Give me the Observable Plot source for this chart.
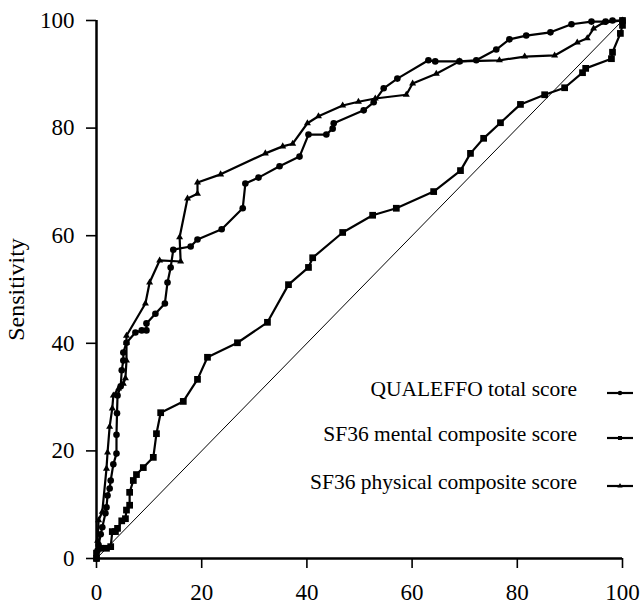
<!DOCTYPE html>
<html>
<head>
<meta charset="utf-8">
<script src="https://cdn.jsdelivr.net/npm/d3@7"></script>
<script src="https://cdn.jsdelivr.net/npm/@observablehq/plot@0.6"></script>
<style>
  html, body { margin: 0; padding: 0; background: #fff; }
  #wrap { position: relative; width: 642px; height: 604px; font-family: "Liberation Serif", "Times New Roman", serif; }
  #legend { position: absolute; left: 0; top: 0; width: 642px; height: 604px; pointer-events: none; }
  .row { position: absolute; right: 65px; font-size: 21.5px; white-space: nowrap; line-height: 1; }
  svg text { font-family: "Liberation Serif", "Times New Roman", serif; }
</style>
</head>
<body>
<div id="wrap"></div>
<script>
// Series names
const seriesNames = ["QUALEFFO total score", "SF36 mental composite score", "SF36 physical composite score"];

// QUALEFFO total score (1 - specificity, sensitivity)
const qualeffoX = [0,0.2,0.4,0.8,1.1,1.7,1.9,2.1,2.5,2.7,3.2,3.8,3.8,3.9,4,4.6,4.8,5.1,5.1,5.7,7.4,8.6,9.5,9.5,11.2,13,13.5,14.1,14.6,17.9,19.2,23.8,27.8,28.3,30.8,34.8,38.6,40.3,43.7,44.9,45.1,50.8,52.7,54.6,57.2,63.1,64.4,69,72.2,76,78.5,81.7,86.3,90.3,94.1,96.8,98.1,100];
const qualeffoY = [0,1.5,2.5,4.5,5.8,8.4,9.5,11.7,13,14.5,17.5,19.5,23,27,30.3,32,35,36.8,38.3,40.1,42,42.4,42.4,43.7,45.5,47.4,51.3,54.1,57.4,58,59.3,61.2,65.1,69.7,70.8,72.9,74.7,78.8,78.8,79.9,80.9,83.3,84.8,87.4,89.2,92.6,92.4,92.4,92.6,94.6,96.5,97.2,97.8,99.3,99.8,99.8,100,100];

// SF36 mental composite score
const mentalX = [0,0,0.8,1.9,2.7,3,3.6,4,4.8,5.5,5.7,6.3,6.3,7,7.6,8.9,10.8,11.4,12.2,16.5,19.2,21.1,26.8,32.5,36.5,40.3,41.1,46.8,52.5,57,64.1,69.2,71.1,73.6,76.8,80.6,85.2,89,92.4,93,97.9,98.1,99.6,100,100];
const mentalY = [0,1,1.9,1.9,2.2,5,5,5.6,7,7.4,9,9.9,12.3,14.5,15.6,16.9,18.8,23.2,27.1,29.2,33.3,37.4,40.1,43.9,50.9,54.1,55.9,60.6,63.8,65.1,68.2,72.1,75.3,78.1,81,84.4,86.2,87.5,90.3,91.1,92.9,94.1,97.6,99.1,100];

// SF36 physical composite score
const physicalX = [0,0.2,0.4,1.1,1.9,2.1,2.5,3,3.2,4.2,5.1,5.5,5.7,5.7,5.7,9.3,10.1,12,16,15.8,17.3,19.2,19.2,23.6,32.1,35.4,37.3,40.1,42.2,46.8,49.8,53,58.9,60.1,64.6,69,76.6,81.4,87.1,91.4,93.3,94.5,96.4,100];
const physicalY = [0,3.3,7.1,8.7,16.7,19.7,24.5,27.9,30.3,31.6,32.5,33.5,36.8,40.1,41.4,47.4,51.3,55.4,55.2,59.7,66.9,67.8,69.9,71.4,75.3,76.6,77.1,80.9,82.2,84.2,84.9,85.5,86.2,88.3,90.1,92.4,92.6,93.3,93.5,95.9,96.7,98.5,99.6,100];

// Chance diagonal
const diagX = [0, 100];
const diagY = [0, 100];

// Tick labels
const xTicks = [0, 20, 40, 60, 80, 100];
const yTicks = [0, 20, 40, 60, 80, 100];

const toRows = (xs, ys) => xs.map((x, i) => ({x, y: ys[i]}));
const qualeffo = toRows(qualeffoX, qualeffoY);
const mental = toRows(mentalX, mentalY);
const physical = toRows(physicalX, physicalY);
const diag = toRows(diagX, diagY);

const chart = Plot.plot({
  width: 642,
  height: 604,
  marginTop: 20,
  marginRight: 20,
  marginBottom: 46,
  marginLeft: 96,
  style: {fontFamily: "'Liberation Serif', 'Times New Roman', serif", fontSize: "23px", background: "#fff", color: "#000", overflow: "visible"},
  x: {domain: [0, 100]},
  y: {domain: [0, 100]},
  marks: [
    Plot.line(diag, {x: "x", y: "y", stroke: "#000", strokeWidth: 1}),
    Plot.line(mental, {x: "x", y: "y", stroke: "#000", strokeWidth: 2.2}),
    Plot.line(physical, {x: "x", y: "y", stroke: "#000", strokeWidth: 2.2}),
    Plot.line(qualeffo, {x: "x", y: "y", stroke: "#000", strokeWidth: 2.2}),
    Plot.dot(mental, {x: "x", y: "y", symbol: "square", r: 3.8, fill: "#000"}),
    Plot.dot(physical, {x: "x", y: "y", symbol: "triangle", r: 2.6, fill: "#000"}),
    Plot.dot(qualeffo, {x: "x", y: "y", symbol: "circle", r: 3.3, fill: "#000"}),
    Plot.axisX({ticks: xTicks, tickSize: 10, tickPadding: 15, strokeWidth: 1.6, label: null, fontSize: 23}),
    Plot.axisY({ticks: yTicks, tickSize: 10, tickPadding: 12, strokeWidth: 1.6, label: null, fontSize: 23}),
    Plot.axisY({ticks: [], tickSize: 0, label: "Sensitivity", labelAnchor: "center", labelArrow: "none", labelOffset: 90, fontSize: 24}),
    Plot.ruleX([0], {stroke: "#000", strokeWidth: 2.5}),
    Plot.ruleY([0], {stroke: "#000", strokeWidth: 2.5})
  ]
});

const wrap = document.getElementById("wrap");
wrap.appendChild(chart);

// Legend overlay (inside the plot frame, bottom right)
const symbols = ["circle", "square", "triangle"];
const legendTops = [383, 428, 476];
const legend = document.createElement("div");
legend.id = "legend";
seriesNames.forEach((name, i) => {
  const row = document.createElement("div");
  row.className = "row";
  row.style.top = (legendTops[i] - 4) + "px";
  row.textContent = name;
  legend.appendChild(row);
  const sw = document.createElementNS("http://www.w3.org/2000/svg", "svg");
  sw.setAttribute("width", 30);
  sw.setAttribute("height", 14);
  sw.style.position = "absolute";
  sw.style.left = "605px";
  sw.style.top = (legendTops[i] + 3) + "px";
  const ln = document.createElementNS("http://www.w3.org/2000/svg", "line");
  ln.setAttribute("x1", 2); ln.setAttribute("x2", 28);
  ln.setAttribute("y1", 7); ln.setAttribute("y2", 7);
  ln.setAttribute("stroke", "#000"); ln.setAttribute("stroke-width", 2.2);
  sw.appendChild(ln);
  const p = document.createElementNS("http://www.w3.org/2000/svg", "path");
  const sym = {circle: d3.symbolCircle, square: d3.symbolSquare, triangle: d3.symbolTriangle}[symbols[i]];
  p.setAttribute("d", d3.symbol(sym, symbols[i] === "triangle" ? 12 : 16)());
  p.setAttribute("transform", "translate(15,7)");
  p.setAttribute("fill", "#000");
  sw.appendChild(p);
  legend.appendChild(sw);
});
wrap.appendChild(legend);
</script>
</body>
</html>
